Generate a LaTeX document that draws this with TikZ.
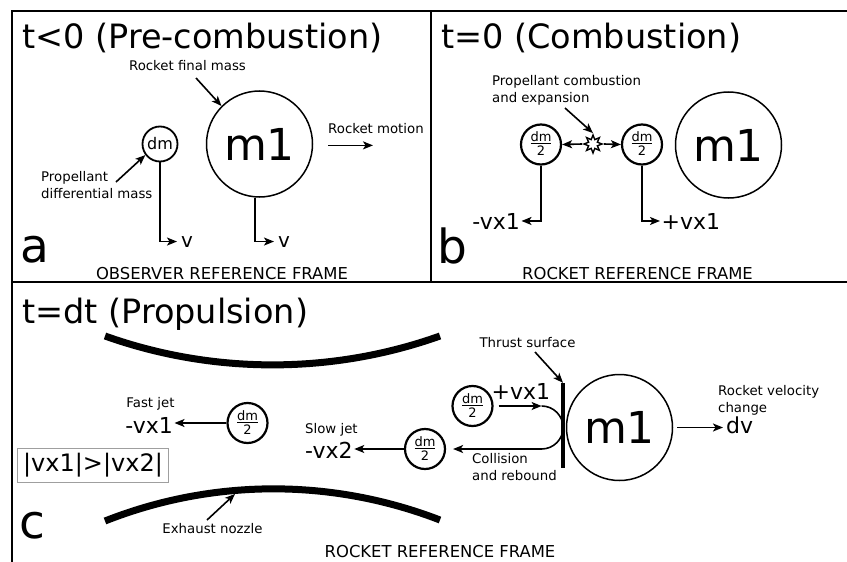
\documentclass[tikz,border=0pt]{standalone}
\usepackage{fontspec}
\setmainfont{DejaVu Sans}
\usetikzlibrary{arrows.meta,shapes.geometric}

% half of the differential mass, written as a small stacked fraction
\newcommand{\halfdm}{{\fontsize{13}{15}\selectfont
  \setlength{\arrayrulewidth}{0.9pt}\setlength{\tabcolsep}{0pt}%
  \renewcommand{\arraystretch}{0.3}%
  \begin{tabular}{c}dm\\\hline\rule[-1pt]{0pt}{12.5pt}2\end{tabular}}}

\tikzset{
  lbl/.style={font=\fontsize{13.3}{16}\selectfont, inner sep=0pt},
  vel/.style={font=\fontsize{22}{26}\selectfont, inner sep=1.5pt},
  vsmall/.style={font=\fontsize{20}{24}\selectfont, inner sep=4pt},
  heading/.style={font=\fontsize{33.5}{40}\selectfont, inner sep=0pt, anchor=base west},
  panelletter/.style={font=\fontsize{47}{56}\selectfont, inner sep=0pt, anchor=base west},
  frametxt/.style={font=\fontsize{16.4}{20}\selectfont, inner sep=0pt, anchor=base},
  mass/.style={circle, draw, line width=1.5pt, minimum size=106pt, inner sep=0pt,
    font=\fontsize{44}{50}\selectfont},
  half/.style={circle, draw, line width=2.2pt, minimum size=40pt, inner sep=0pt},
  conn/.style={line width=1.6pt, -{Stealth[length=10pt,width=8pt,inset=2.5pt]}},
  framebar/.style={line width=2pt},
  nozzle/.style={line width=7pt},
}

\begin{document}
\begin{tikzpicture}[x=1pt,y=-1pt]
\fill[white] (0,0) rectangle (847,562);
\useasboundingbox (0,0) rectangle (847,562);

% panel borders
\draw[framebar] (12,562) -- (12,11) -- (847,11);
\draw[framebar] (431,11) -- (431,281.5);
\draw[framebar] (12,281.5) -- (847,281.5);

% ---------- a: before combustion ----------
\node[heading] (ta) at (22,48) {t<0 (Pre-combustion)};
\node[lbl, anchor=base] (rfm) at (187.5,70) {Rocket final mass};
\node[mass] (m1a) at (259.5,144) {m1};
\node[circle, draw, line width=1.8pt, minimum size=35pt, inner sep=0pt,
      font=\fontsize{16}{18}\selectfont] (dma) at (160,144) {dm};
\node[lbl, anchor=base west] (rm) at (328,133) {Rocket motion};
\node[lbl, anchor=base west] (pdm1) at (41,181) {Propellant};
\node[lbl, anchor=base west] (pdm2) at (41,198) {differential mass};
\node[vsmall, anchor=base west] (va1) at (177,247) {v};
\node[vsmall, anchor=base west] (va2) at (274,247) {v};
\node[panelletter] (la) at (20,262) {a};
\node[frametxt] (ofr) at (222,279) {OBSERVER REFERENCE FRAME};

\coordinate (rfmtail) at (196,78);
\coordinate (pdmtail) at (116,182);
\draw[conn] (rfmtail) -- (m1a.135);
\draw[conn] (pdmtail) -- (dma.217);
\draw[conn] ([yshift=-12pt]rm.south west) -- ++(45,0);
\draw[conn] (dma.south) |- (va1.west);
\draw[conn] (m1a.265) |- (va2.west);

% ---------- b: combustion ----------
\node[heading] (tb) at (441,48) {t=0 (Combustion)};
\node[lbl, anchor=base west] (pce1) at (492,85) {Propellant combustion};
\node[lbl, anchor=base west] (pce2) at (492,102) {and expansion};
\node[half] (hl) at (541,144.5) {\halfdm};
\node[half] (hr) at (642,144.5) {\halfdm};
\node[mass] (m1b) at (728.5,145) {m1};
\node[star, star points=8, star point ratio=1.9, draw, line width=1.4pt,
      minimum size=18pt, inner sep=0pt] (boom) at (593,144) {};
\node[vel, anchor=base east] (nx1) at (521.5,229) {-vx1};
\node[vel, anchor=base west] (px1) at (660,229) {+vx1};
\node[panelletter] (lb) at (437,263) {b};
\node[frametxt] (rfb) at (637.5,279) {ROCKET REFERENCE FRAME};

\coordinate (pcetail) at (565,108);
\draw[conn] (pcetail) -- (boom.north);
\draw[conn] (boom.west) -- (hl.east);
\draw[conn] (boom.east) -- (hr.west);
\draw[conn] (hl.south) |- (nx1.east);
\draw[conn] (hr.south) |- (px1.west);

% ---------- c: propulsion ----------
\node[heading] (tc) at (22,323) {t=dt (Propulsion)};
\draw[nozzle] (105,336) .. controls (213,374.5) and (332,374.5) .. (440,336);
\draw[nozzle] (105,521) .. controls (213,478.3) and (332,478.3) .. (440,520);

\node[lbl, anchor=base] (fj) at (150.5,407) {Fast jet};
\node[vel, anchor=base east] (fx) at (174.5,433) {-vx1};
\node[half] (c1) at (247.5,423) {\halfdm};
\node[lbl, anchor=base west] (sj) at (305,433) {Slow jet};
\node[vel, anchor=base west] (sx) at (303.5,458) {-vx2};
\node[half] (c2) at (425,449) {\halfdm};

\node[draw=gray!75, line width=1.5pt, minimum width=151pt, minimum height=34pt,
      inner sep=0pt, font=\fontsize{24}{28}\selectfont] (ineq) at (93,465.5) {|vx1|>|vx2|};
\node[panelletter] (lc) at (19,538) {c};
\node[lbl, anchor=base] (exn) at (212.5,533) {Exhaust nozzle};
\node[frametxt] (rfc) at (440,557) {ROCKET REFERENCE FRAME};

\node[lbl, anchor=base] (ts) at (527.5,347) {Thrust surface};
\node[fill, minimum width=4.5pt, minimum height=85pt, inner sep=0pt] (bar) at (563,425.5) {};
\node[mass] (m1c) at (619.5,427.5) {m1};
\node[half] (c3) at (472.5,406) {\halfdm};
\node[vel, anchor=base west] (px2) at (490,399) {+vx1};
\node[lbl, anchor=base west] (cr1) at (472,463) {Collision};
\node[lbl, anchor=base west] (cr2) at (472,480) {and rebound};
\node[vel, inner sep=3pt, anchor=base west] (dv) at (723,433) {dv};
\node[lbl, anchor=base west] (rvc1) at (718,395) {Rocket velocity};
\node[lbl, anchor=base west] (rvc2) at (718,412) {change};

\draw[conn] (c1.west) -- (c1.west -| fx.east);
\draw[conn] (c2.west) -- (c2.west -| sx.east);
\coordinate (exntail) at (207,520);
\coordinate (exntip) at (235,494);
\draw[conn] (exntail) -- (exntip);
\coordinate (tstail) at (535,352);
\draw[conn] (tstail) -- (bar.north);
\draw[conn] ([xshift=5pt]c3.east) -- ++(43,0) coordinate (turn);
\draw[conn] (turn) arc[start angle=90, end angle=-90, radius=21.5pt] -- ([xshift=7pt]c2.east);
\draw[conn] ([xshift=4pt]m1c.east) -- (m1c.east -| dv.west);
\end{tikzpicture}
\end{document}
